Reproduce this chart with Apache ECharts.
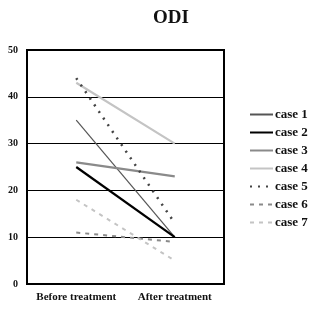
<!DOCTYPE html>
<html>
<head>
<meta charset="utf-8">
<script src="https://cdn.jsdelivr.net/npm/echarts@6/dist/echarts.min.js"></script>
<style>
  html, body { margin: 0; padding: 0; background: #fff; }
  #chart { width: 316px; height: 313px; }
</style>
</head>
<body>
<div id="chart"></div>
<script>
  // categories and values
  var categories = ['Before treatment', 'After treatment'];
  var seriesNames = ['case 1', 'case 2', 'case 3', 'case 4', 'case 5', 'case 6', 'case 7'];
  var case1 = [35, 10];
  var case2 = [25, 10];
  var case3 = [26, 23];
  var case4 = [43, 30];
  var case5 = [44, 13];
  var case6 = [11, 9];
  var case7 = [18, 5];
  var yTicks = [0, 10, 20, 30, 40, 50];

  var values = [case1, case2, case3, case4, case5, case6, case7];
  var styles = [
    { color: '#555555', width: 1.2, type: 'solid' },
    { color: '#000000', width: 2.2, type: 'solid' },
    { color: '#8a8a8a', width: 2.2, type: 'solid' },
    { color: '#c4c4c4', width: 2.2, type: 'solid' },
    { color: '#444444', width: 2.5, type: [2, 6] },
    { color: '#8a8a8a', width: 2, type: [4, 5] },
    { color: '#c4c4c4', width: 2, type: [4, 5] }
  ];

  var font = '"Liberation Serif", "DejaVu Serif", serif';

  var myChart = echarts.init(document.getElementById('chart'));
  var series = seriesNames.map(function (name, i) {
    return {
      name: name,
      type: 'line',
      data: values[i],
      symbol: 'none',
      color: styles[i].color,
      lineStyle: styles[i]
    };
  });

  var option = {
    animation: false,
    title: {
      text: 'ODI',
      left: 166,
      textAlign: 'center',
      top: 4,
      textStyle: { fontFamily: font, fontSize: 19, fontWeight: 'bold', color: '#111' }
    },
    legend: {
      orient: 'vertical',
      left: 244,
      top: 103,
      itemWidth: 23,
      itemHeight: 12,
      itemGap: 5,
      itemStyle: { opacity: 0 },
      textStyle: { fontFamily: font, fontSize: 13, lineHeight: 13, fontWeight: 'bold', color: '#111', padding: [0, 0, 0, -3] },
      data: seriesNames
    },
    grid: {
      left: 27,
      right: 92,
      top: 50,
      bottom: 29,
      show: true,
      borderColor: '#000',
      borderWidth: 2
    },
    xAxis: {
      type: 'category',
      data: categories,
      boundaryGap: true,
      axisLine: { lineStyle: { color: '#000', width: 2 } },
      axisTick: { inside: true, length: 4, lineStyle: { color: '#000' } },
      axisLabel: { interval: 0, fontFamily: font, fontSize: 11, fontWeight: 'bold', color: '#111', margin: 8 }
    },
    yAxis: {
      type: 'value',
      min: yTicks[0],
      max: yTicks[yTicks.length - 1],
      interval: 10,
      axisLine: { show: true, lineStyle: { color: '#000', width: 2 } },
      axisTick: { show: false },
      axisLabel: { fontFamily: font, fontSize: 10, fontWeight: 'bold', color: '#111', margin: 9 },
      splitLine: { lineStyle: { color: '#000', width: 1 } }
    },
    series: series
  };

  myChart.setOption(option);
</script>
</body>
</html>
